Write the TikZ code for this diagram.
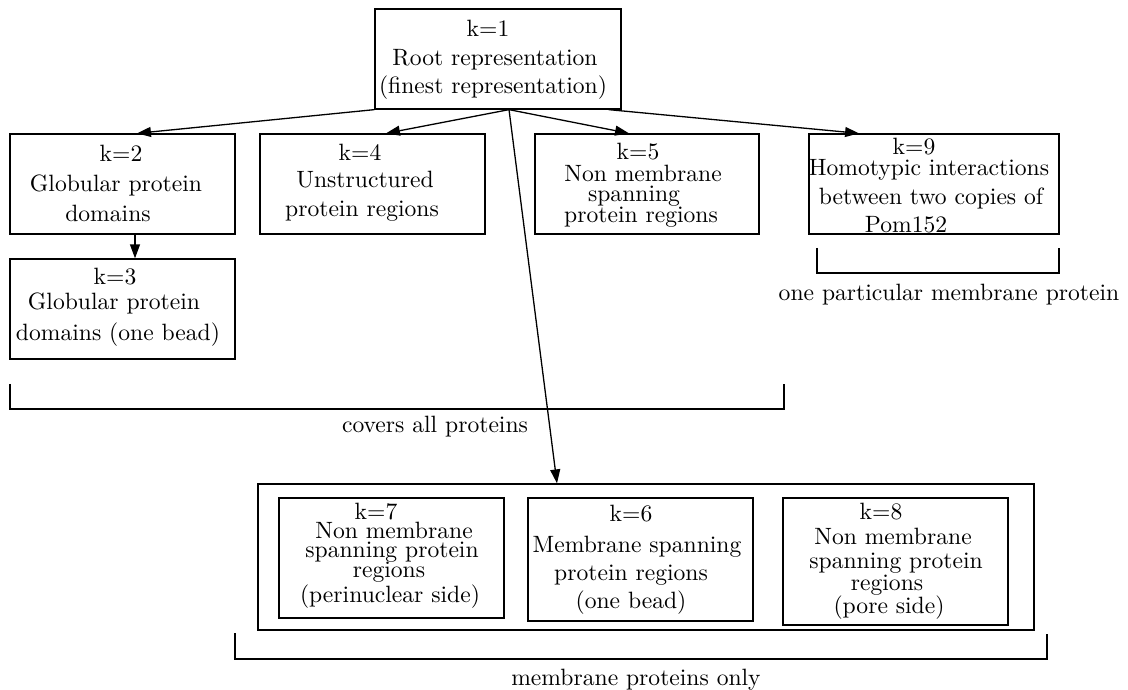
\documentclass[tikz,border=0pt]{standalone}
\usetikzlibrary{arrows.meta,fit,calc}
\newcommand\myline[4]{\node[txt] (#1) at (#2,#3) {#4};}
\begin{document}
\begin{tikzpicture}[x=0.4237pt,y=-0.4237pt,
  line width=0.55pt,
  box/.style={draw, rectangle, inner sep=0pt},
  txt/.style={anchor=base, inner sep=0pt, font=\fontsize{10}{12}\selectfont},
  arr/.style={-{Triangle[length=5.9pt,width=4.2pt]}}]
\useasboundingbox (0,0) rectangle (1128,690);

% boxes
\node[box, fit={(375,9)(621,109)}] (b1) {};
\node[box, fit={(10,134)(235,234)}] (b2) {};
\node[box, fit={(10,259)(235,359)}] (b3) {};
\node[box, fit={(260,134)(485,234)}] (b4) {};
\node[box, fit={(535,134)(759,234)}] (b5) {};
\node[box, fit={(809,134)(1059,234)}] (b9) {};
\node[box, fit={(258,484)(1034,630)}] (outer) {};
\node[box, fit={(279,498)(504,618)}] (b7) {};
\node[box, fit={(528,498)(753,621)}] (b6) {};
\node[box, fit={(783,498)(1008,625)}] (b8) {};

% texts
\myline{t1a}{488}{37}{k=1}
\myline{t1b}{495}{66}{Root representation}
\myline{t1c}{493}{94}{(finest representation)}

\myline{t2a}{121}{162}{k=2}
\myline{t2b}{116}{192}{Globular protein}
\myline{t2c}{108}{222}{domains}

\myline{t3a}{115}{285}{k=3}
\myline{t3b}{114}{310}{Globular protein}
\myline{t3c}{118}{341}{domains (one bead)}

\myline{t4a}{360}{161}{k=4}
\myline{t4b}{365}{188}{Unstructured}
\myline{t4c}{362}{217}{protein regions}

\myline{t5a}{638}{160}{k=5}
\myline{t5b}{643}{182}{Non membrane}
\myline{t5c}{634}{202}{spanning}
\myline{t5d}{641}{223}{protein regions}

\myline{t9a}{914}{155}{k=9}
\myline{t9b}{929}{176}{Homotypic interactions}
\myline{t9c}{931}{205}{between two copies of}
\myline{t9d}{906}{233}{Pom152}

\myline{t7a}{376}{519}{k=7}
\myline{t7b}{394}{538}{Non membrane}
\myline{t7c}{392}{557}{spanning protein}
\myline{t7d}{389}{577}{regions}
\myline{t7e}{390}{602}{(perinuclear side)}

\myline{t6a}{631}{522}{k=6}
\myline{t6b}{637}{552}{Membrane spanning}
\myline{t6c}{631}{580}{protein regions}
\myline{t6d}{631}{608}{(one bead)}

\myline{t8a}{881}{519}{k=8}
\myline{t8b}{893}{544}{Non membrane}
\myline{t8c}{896}{568}{spanning protein}
\myline{t8d}{887}{590}{regions}
\myline{t8e}{889}{613}{(pore side)}

% arrows
\coordinate (s) at ($(b1.south)+(11,0)$);
\draw[arr] (b1.south west) -- ($(b2.north)+(14.5,0)$);
\draw[arr] (s) -- ($(b4.north)+(13.5,0)$);
\draw[arr] (s) -- ($(b5.north)+(-18,0)$);
\draw[arr] ($(b1.south east)+(-13,0)$) -- ($(b9.north)+(-75,0)$);
\draw[arr] (s) -- ($(outer.north)+(-89,0)$);
\draw[arr] ($(b2.south)+(12.5,0)$) -- ($(b3.north)+(12.5,0)$);

% brackets
\coordinate (c1) at (10,384);
\coordinate (c2) at (784,384);
\draw (c1) -- (c1 |- 0,409) -- (c2 |- 0,409) -- (c2);
\myline{l1}{435}{433}{covers all proteins}

\coordinate (p1) at (817,248);
\coordinate (p2) at (1059,248);
\draw (p1) -- (p1 |- 0,273) -- (p2 |- 0,273) -- (p2);
\myline{l2}{949}{301}{one particular membrane protein}

\coordinate (m1) at (235,633);
\coordinate (m2) at (1047,634);
\draw (m1) -- (m1 |- 0,659) -- (m2 |- 0,659) -- (m2);
\myline{l3}{636}{685}{membrane proteins only}
\end{tikzpicture}
\end{document}
